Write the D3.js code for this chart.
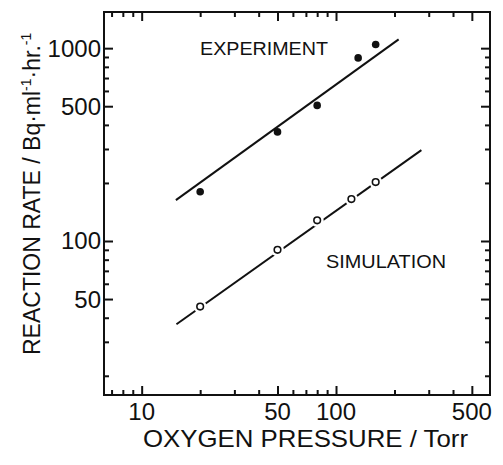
<!DOCTYPE html>
<html>
<head>
<meta charset="utf-8">
<script src="https://cdn.jsdelivr.net/npm/d3@7"></script>
<style>
  body { margin: 0; background: #fff; }
  text { font-family: "Liberation Sans", Arial, sans-serif; fill: #111; }
</style>
</head>
<body>
<div id="graph"></div>
<script>
// values (pressure in Torr, rate in Bq/ml/hr)
let expPressure = [20, 50, 80, 130, 160];
let expRate = [180, 368, 505, 890, 1045];
let simPressure = [20, 50, 80, 120, 160];
let simRate = [45.7, 90, 128, 165, 202];
// end points of the two fitted lines
let expFit = [[15, 163], [210, 1110]];
let simFit = [[15.1, 37], [275, 296]];

let xMajor = [10, 50, 100, 500];
let xMinor = [7, 8, 9, 20, 30, 40, 60, 70, 80, 90, 200, 300, 400];
let yMajor = [50, 100, 500, 1000];
let yMinor = [20, 30, 40, 60, 70, 80, 90, 200, 300, 400, 600, 700, 800, 900];

const width = 503, height = 465;
const box = {left: 104, right: 490, top: 12, bottom: 395};

let svg = d3.select("#graph")
    .append("svg")
    .attr("width", width)
    .attr("height", height);

let x = d3.scaleLog().domain([6.4, 620]).range([box.left, box.right]);
let y = d3.scaleLog().domain([15.9, 1540]).range([box.bottom, box.top]);

// frame
svg.append("rect")
    .attr("x", box.left).attr("y", box.top)
    .attr("width", box.right - box.left).attr("height", box.bottom - box.top)
    .attr("fill", "none").attr("stroke", "#111").attr("stroke-width", 2);

// inward ticks on all four sides, done with d3 axes
function addAxis(axisFn, scale, vals, size, transform) {
    svg.append("g")
        .attr("transform", transform)
        .call(axisFn(scale).tickValues(vals).tickSizeInner(-size).tickSizeOuter(0).tickFormat(""))
        .call(g => g.select(".domain").remove())
        .call(g => g.selectAll("line").attr("stroke", "#111").attr("stroke-width", 2));
}
addAxis(d3.axisBottom, x, xMajor, 9, `translate(0,${box.bottom})`);
addAxis(d3.axisBottom, x, xMinor, 5, `translate(0,${box.bottom})`);
addAxis(d3.axisTop, x, xMajor, 9, `translate(0,${box.top})`);
addAxis(d3.axisTop, x, xMinor, 5, `translate(0,${box.top})`);
addAxis(d3.axisLeft, y, yMajor, 9, `translate(${box.left},0)`);
addAxis(d3.axisLeft, y, yMinor, 5, `translate(${box.left},0)`);
addAxis(d3.axisRight, y, yMajor, 9, `translate(${box.right},0)`);
addAxis(d3.axisRight, y, yMinor, 5, `translate(${box.right},0)`);

// tick labels
svg.append("g").selectAll("text")
    .data(xMajor).enter().append("text")
    .attr("x", d => x(d))
    .attr("y", 420)
    .style("text-anchor", "middle")
    .style("font-size", "24px")
    .text(d => d);

svg.append("g").selectAll("text")
    .data(yMajor).enter().append("text")
    .attr("x", box.left - 3)
    .attr("y", d => y(d) + 8.5)
    .style("text-anchor", "end")
    .style("font-size", "24px")
    .text(d => d);

// axis titles
svg.append("text")
    .attr("x", 143).attr("y", 447)
    .attr("textLength", 325).attr("lengthAdjust", "spacingAndGlyphs")
    .style("font-size", "24px")
    .text("OXYGEN PRESSURE / Torr");

let ytitle = svg.append("text")
    .attr("transform", "translate(40, 355) rotate(-90)")
    .style("font-size", "23px");
ytitle.append("tspan").text("REACTION RATE / Bq\u00b7ml");
ytitle.append("tspan").attr("dy", -9).style("font-size", "14px").text("-1");
ytitle.append("tspan").attr("dy", 9).text("\u00b7hr.");
ytitle.append("tspan").attr("dy", -9).style("font-size", "14px").text("-1");

// fitted lines
let line = d3.line().x(d => x(d[0])).y(d => y(d[1]));
svg.append("path").datum(expFit).attr("d", line)
    .attr("fill", "none").attr("stroke", "#111").attr("stroke-width", 2);
svg.append("path").datum(simFit).attr("d", line)
    .attr("fill", "none").attr("stroke", "#111").attr("stroke-width", 2);

// experiment: filled dots
svg.append("g").selectAll("circle")
    .data(expPressure).enter().append("circle")
    .attr("cx", d => x(d))
    .attr("cy", (d, i) => y(expRate[i]))
    .attr("r", 3.8)
    .attr("fill", "#111");

// simulation: open circles, the line breaks around each one
let sim = svg.append("g").selectAll("g")
    .data(simPressure).enter().append("g")
    .attr("transform", (d, i) => `translate(${x(d)},${y(simRate[i])})`);
sim.append("circle").attr("r", 6.5).attr("fill", "#fff");
sim.append("circle").attr("r", 3.3)
    .attr("fill", "#fff").attr("stroke", "#111").attr("stroke-width", 1.6);

// series labels
svg.append("text")
    .attr("x", 200).attr("y", 55)
    .attr("textLength", 128).attr("lengthAdjust", "spacingAndGlyphs")
    .style("font-size", "18px")
    .text("EXPERIMENT");
svg.append("text")
    .attr("x", 326).attr("y", 268)
    .attr("textLength", 120).attr("lengthAdjust", "spacingAndGlyphs")
    .style("font-size", "19px")
    .text("SIMULATION");
</script>
</body>
</html>
